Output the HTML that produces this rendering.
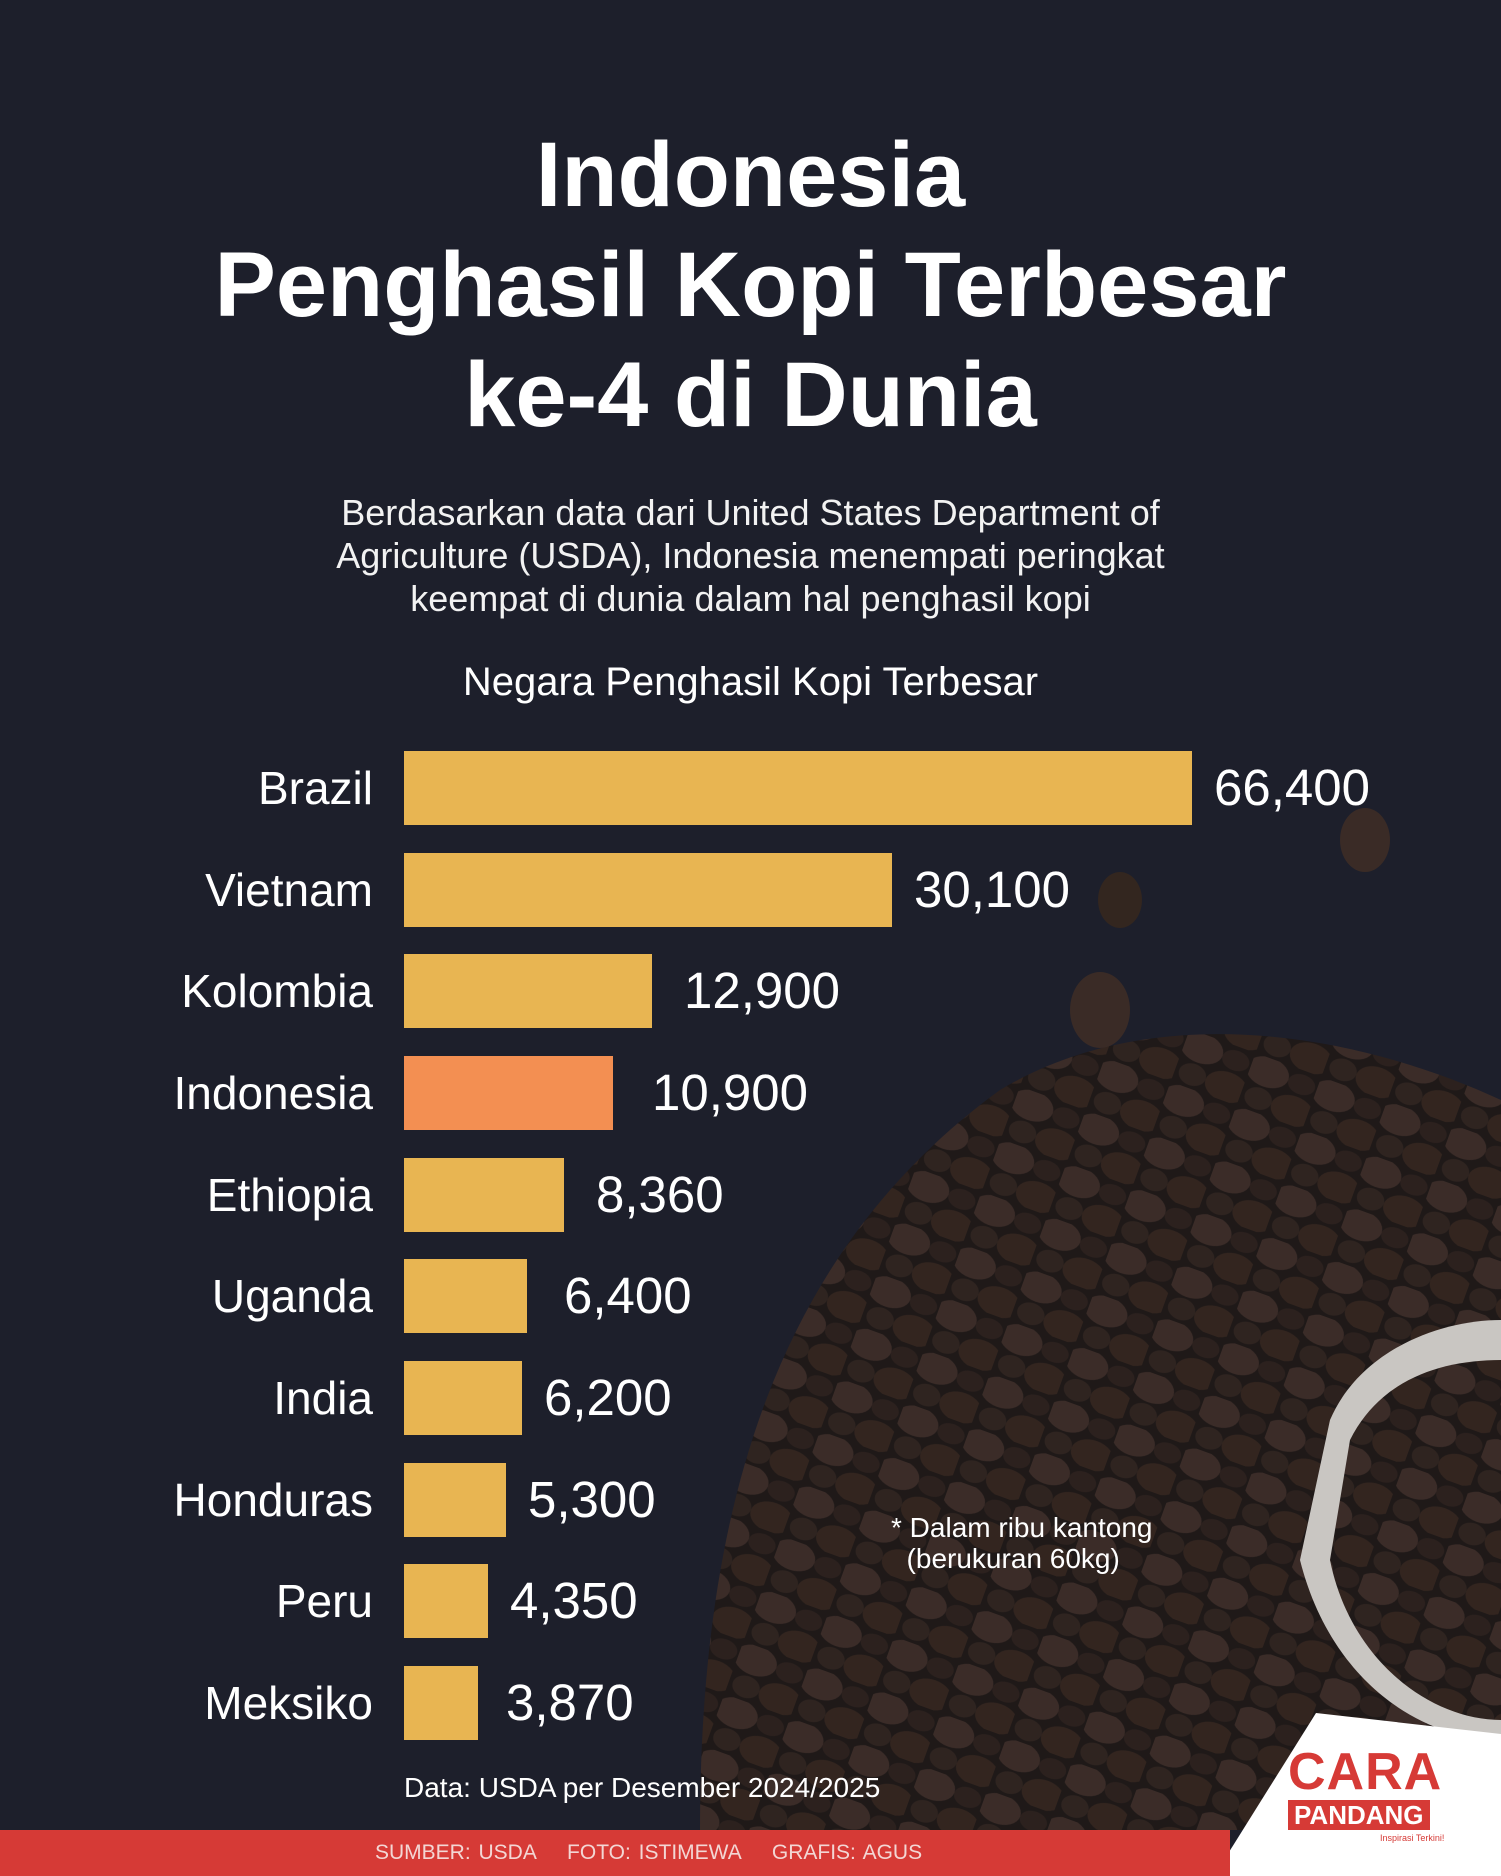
<!DOCTYPE html>
<html><head><meta charset="utf-8"><style>
html,body{margin:0;padding:0}
body{width:1501px;height:1876px;background:#1d1f2b;position:relative;overflow:hidden;font-family:"Liberation Sans",sans-serif;color:#fff}
.t{position:absolute;left:0;width:1501px;text-align:center;font-weight:bold}
.lab{position:absolute;right:1128px;font-size:46px;text-align:right;white-space:nowrap}
.bar{position:absolute;left:404px;height:74px;background:#e8b552}
.val{position:absolute;font-size:51px;white-space:nowrap}
</style></head><body>
<svg style="position:absolute;left:0;top:0" width="1501" height="1876">
<defs>
<pattern id="beans" width="70" height="56" patternUnits="userSpaceOnUse" patternTransform="rotate(20)">
<rect width="70" height="56" fill="#1f1918"/>
<ellipse cx="18" cy="14" rx="22" ry="15" fill="#3b2c28"/>
<ellipse cx="54" cy="42" rx="22" ry="15" fill="#33251f"/>
<ellipse cx="54" cy="14" rx="14" ry="10" fill="#2c211e"/>
<ellipse cx="18" cy="42" rx="14" ry="11" fill="#2f2420"/>
</pattern>
<radialGradient id="fade" cx="0.75" cy="0.75" r="0.8">
<stop offset="0.6" stop-color="#fff" stop-opacity="1"/><stop offset="1" stop-color="#fff" stop-opacity="0"/>
</radialGradient>
<mask id="m"><rect x="0" y="0" width="1501" height="1876" fill="url(#fade)"/></mask>
</defs>
<path d="M700 1830 C700 1500 780 1250 1000 1090 C1150 1000 1350 1030 1501 1100 L1501 1830 Z" fill="url(#beans)" mask="url(#m)"/>
<ellipse cx="1100" cy="1010" rx="30" ry="38" fill="#3a2b26"/>
<ellipse cx="1365" cy="840" rx="25" ry="32" fill="#3a2b26"/>
<ellipse cx="1120" cy="900" rx="22" ry="28" fill="#33261f"/>
<path d="M1330 1420 C1360 1350 1440 1320 1501 1320 L1501 1740 C1420 1740 1330 1680 1300 1560 Z" fill="#c9c6c2"/>
<path d="M1350 1440 C1380 1380 1440 1360 1501 1360 L1501 1720 C1430 1720 1350 1660 1330 1560 Z" fill="url(#beans)"/>
<polygon points="1214,1876 1316,1713 1501,1734 1501,1876" fill="#fff"/>
<rect x="0" y="1830" width="1230" height="46" fill="#d63a36"/>
</svg>
<div class="t" style="top:120px;font-size:92px;line-height:110px">Indonesia<br>Penghasil Kopi Terbesar<br>ke-4 di Dunia</div>
<div class="t" style="top:491px;font-size:36px;font-weight:normal;line-height:43px;color:#f2f2f2">Berdasarkan data dari United States Department of<br>Agriculture (USDA), Indonesia menempati peringkat<br>keempat di dunia dalam hal penghasil kopi</div>
<div class="t" style="top:660px;font-size:40px;font-weight:normal">Negara Penghasil Kopi Terbesar</div>

<div class="lab" style="top:761px">Brazil</div><div class="bar" style="top:751px;width:788px"></div><div class="val" style="top:758px;left:1214px">66,400</div>
<div class="lab" style="top:863px">Vietnam</div><div class="bar" style="top:853px;width:488px"></div><div class="val" style="top:860px;left:914px">30,100</div>
<div class="lab" style="top:964px">Kolombia</div><div class="bar" style="top:954px;width:248px"></div><div class="val" style="top:961px;left:684px">12,900</div>
<div class="lab" style="top:1066px">Indonesia</div><div class="bar" style="top:1056px;width:209px;background:#f38f52"></div><div class="val" style="top:1063px;left:652px">10,900</div>
<div class="lab" style="top:1168px">Ethiopia</div><div class="bar" style="top:1158px;width:160px"></div><div class="val" style="top:1165px;left:596px">8,360</div>
<div class="lab" style="top:1269px">Uganda</div><div class="bar" style="top:1259px;width:123px"></div><div class="val" style="top:1266px;left:564px">6,400</div>
<div class="lab" style="top:1371px">India</div><div class="bar" style="top:1361px;width:118px"></div><div class="val" style="top:1368px;left:544px">6,200</div>
<div class="lab" style="top:1473px">Honduras</div><div class="bar" style="top:1463px;width:102px"></div><div class="val" style="top:1470px;left:528px">5,300</div>
<div class="lab" style="top:1574px">Peru</div><div class="bar" style="top:1564px;width:84px"></div><div class="val" style="top:1571px;left:510px">4,350</div>
<div class="lab" style="top:1676px">Meksiko</div><div class="bar" style="top:1666px;width:74px"></div><div class="val" style="top:1673px;left:506px">3,870</div>

<div style="position:absolute;left:891px;top:1512px;font-size:28px;line-height:31px">* Dalam ribu kantong<br>&nbsp;&nbsp;(berukuran 60kg)</div>
<div style="position:absolute;left:404px;top:1772px;font-size:28px">Data: USDA per Desember 2024/2025</div>
<div style="position:absolute;left:375px;top:1841px;font-size:21px;color:#f3d6d4;word-spacing:2px">SUMBER: USDA &nbsp;&nbsp; FOTO: ISTIMEWA &nbsp;&nbsp; GRAFIS: AGUS</div>
<div style="position:absolute;left:1288px;top:1742px;font-size:52px;font-weight:bold;color:#d63a36;letter-spacing:1px">CARA</div>
<div style="position:absolute;left:1288px;top:1800px;background:#d63a36;font-size:26px;font-weight:bold;padding:0 6px;line-height:30px">PANDANG</div>
<div style="position:absolute;left:1380px;top:1833px;font-size:9px;color:#d63a36">Inspirasi Terkini!</div>
</body></html>
